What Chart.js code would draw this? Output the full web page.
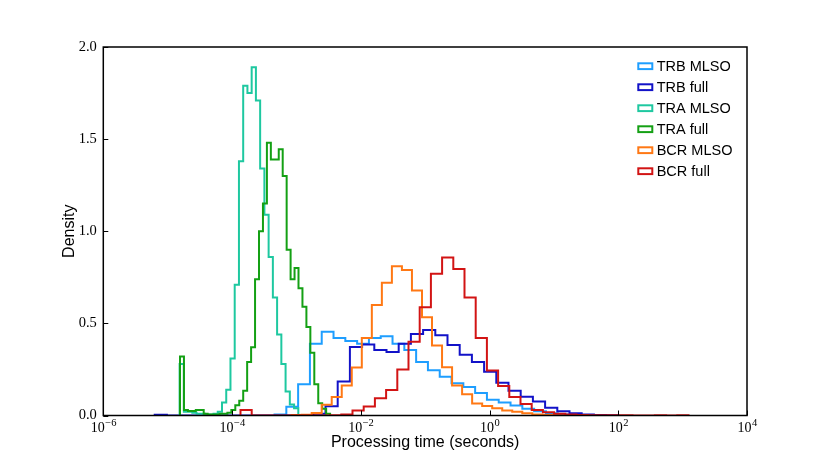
<!DOCTYPE html>
<html>
<head>
<meta charset="utf-8">
<script src="https://cdn.jsdelivr.net/npm/chart.js@4/dist/chart.umd.min.js"></script>
<style>
html, body { margin: 0; padding: 0; background: #fff; }
canvas { display: block; }
</style>
</head>
<body>
<canvas id="c" width="830" height="475" style="width:830px;height:475px"></canvas>
<script>
// ---------------- data ----------------
const seriesLabels = ['TRB MLSO', 'TRB full', 'TRA MLSO', 'TRA full', 'BCR MLSO', 'BCR full'];

// bin ranges: [log10(first edge), log10(last edge)] in seconds
const trbMlsoRange = [-3.340, 1.793];
const trbFullRange = [-5.2015, 2.0006];
const traMlsoRange = [-4.8147, -2.9706];
const traFullRange = [-4.8084, -2.4766];
const bcrMlsoRange = [-3.0747, 1.1322];
const bcrFullRange = [-3.8686, 3.0912];

// density of each bin
const trbMlsoDensity = [0.005, 0.047, 0.17, 0.39, 0.455, 0.42, 0.405, 0.39, 0.42, 0.43, 0.39, 0.356, 0.29, 0.245,
  0.21, 0.175, 0.155, 0.122, 0.085, 0.07, 0.054, 0.036, 0.023, 0.012, 0.005, 0.003, 0.002, 0.001];
const trbFullDensity = [0.004, 0, 0, 0, 0, 0, 0, 0, 0, 0, 0, 0, 0,
  0.009, 0.05, 0.185, 0.372, 0.385, 0.356, 0.345, 0.39, 0.443, 0.464, 0.436, 0.383, 0.33, 0.29, 0.238,
  0.178, 0.135, 0.102, 0.076, 0.042, 0.023, 0.012, 0.005, 0.003, 0.001];
const traMlsoDensity = [0.28, 0.02, 0.02, 0.015, 0.01, 0.01, 0.005, 0.005, 0.01, 0.02, 0.07, 0.14, 0.31, 0.71,
  1.38, 1.79, 1.75, 1.89, 1.71, 1.34, 1.09, 0.86, 0.64, 0.44, 0.28, 0.13, 0.06, 0.04];
const traFullDensity = [0.32, 0.03, 0.025, 0.025, 0.03, 0.03, 0.01, 0.005, 0.005, 0.005, 0.01, 0.01, 0.015,
  0.03, 0.055, 0.08, 0.135, 0.29, 0.37, 0.74, 1.0, 1.15, 1.48, 1.39, 1.39, 1.445, 1.30, 0.90, 0.74, 0.80,
  0.69, 0.59, 0.48, 0.34, 0.17, 0.067, 0.036, 0.01];
const bcrMlsoDensity = [0.003, 0.004, 0.014, 0.058, 0.1, 0.163, 0.26, 0.42, 0.6, 0.72, 0.81, 0.79, 0.678,
  0.533, 0.38, 0.262, 0.163, 0.116, 0.065, 0.052, 0.04, 0.027, 0.02, 0.012, 0.005, 0.003, 0.002];
const bcrFullDensity = [0.03, 0, 0, 0, 0, 0, 0, 0, 0.002, 0.005, 0.027, 0.049, 0.094, 0.139, 0.25, 0.40,
  0.587, 0.77, 0.858, 0.795, 0.641, 0.42, 0.244, 0.16, 0.1, 0.063, 0.03, 0.018, 0.009, 0.005, 0.003,
  0.002, 0.001, 0.001, 0.001, 0, 0, 0.001, 0, 0.001];

// axis ticks
const xTickExponents = [-6, -4, -2, 0, 2, 4];
const yTickValues = [0.0, 0.5, 1.0, 1.5, 2.0];
const xTitle = 'Processing time (seconds)';
const yTitle = 'Density';

// ---------------- styles ----------------
const seriesColors = ['#1e9eff', '#1212c8', '#1ec8a0', '#14a014', '#ff7814', '#d21414'];

// ---------------- build ----------------
const ranges = [trbMlsoRange, trbFullRange, traMlsoRange, traFullRange, bcrMlsoRange, bcrFullRange];
const densities = [trbMlsoDensity, trbFullDensity, traMlsoDensity, traFullDensity, bcrMlsoDensity, bcrFullDensity];

function histOutline(range, vals) {
  const lo = range[0], hi = range[1], n = vals.length, w = (hi - lo) / n;
  const pts = [{ x: Math.pow(10, lo), y: 0 }];
  vals.forEach((v, i) => pts.push({ x: Math.pow(10, lo + i * w), y: v }));
  pts.push({ x: Math.pow(10, hi), y: 0 });
  return pts;
}

function expText(e) { return String(e).replace('-', '\u2212'); }

const datasets = seriesLabels.map((lab, i) => ({
  label: lab,
  data: histOutline(ranges[i], densities[i]),
  borderColor: seriesColors[i],
  backgroundColor: seriesColors[i],
  borderWidth: 2,
  pointRadius: 0,
  pointHoverRadius: 0,
  fill: false,
  stepped: true,
  tension: 0,
  order: seriesLabels.length - i
}));

const serifFont = '"Liberation Serif", "DejaVu Serif", serif';
const sansFont = '"Liberation Sans", Arial, Helvetica, sans-serif';

const frameAndLegend = {
  id: 'frameAndLegend',
  afterDatasetsDraw(chart) {
    const { ctx, chartArea: a, scales } = chart;
    ctx.save();
    ctx.strokeStyle = '#000';
    ctx.lineWidth = 1;
    ctx.beginPath();
    scales.x.ticks.forEach(t => {
      const px = Math.round(scales.x.getPixelForValue(t.value)) + 0.5;
      ctx.moveTo(px, a.bottom); ctx.lineTo(px, a.bottom - 5);
    });
    scales.y.ticks.forEach(t => {
      const py = Math.round(scales.y.getPixelForValue(t.value)) + 0.5;
      ctx.moveTo(a.left, py); ctx.lineTo(a.left + 5, py);
    });
    ctx.stroke();
    ctx.lineWidth = 1.5;
    ctx.strokeRect(a.left, a.top, a.right - a.left, a.bottom - a.top);

    // x tick labels as 10 with raised exponent
    ctx.fillStyle = '#000';
    ctx.textBaseline = 'alphabetic';
    ctx.textAlign = 'left';
    scales.x.ticks.forEach(t => {
      const px = scales.x.getPixelForValue(t.value);
      const base = '10', ex = expText(Math.round(Math.log10(t.value)));
      ctx.font = '14px ' + serifFont;
      const wb = ctx.measureText(base).width;
      ctx.font = '10.5px ' + serifFont;
      const we = ctx.measureText(ex).width;
      const x0 = px - (wb + we) / 2;
      ctx.font = '14px ' + serifFont;
      ctx.fillText(base, x0, a.bottom + 16);
      ctx.font = '10.5px ' + serifFont;
      ctx.fillText(ex, x0 + wb + 0.5, a.bottom + 10);
    });

    // legend inside the upper-right corner
    ctx.font = '14.5px ' + sansFont;
    chart.data.datasets.forEach((ds, i) => {
      const base = a.top + 23.7 + 21 * i;
      const bx = a.right - 108.7;
      ctx.strokeStyle = ds.borderColor;
      ctx.lineWidth = 2;
      ctx.strokeRect(bx, base - 7.4, 14, 5.8);
      ctx.fillStyle = '#000';
      ctx.fillText(ds.label, a.right - 90.3, base);
    });
    ctx.restore();
  }
};

new Chart(document.getElementById('c'), {
  type: 'line',
  data: { datasets },
  plugins: [frameAndLegend],
  options: {
    responsive: false,
    animation: false,
    devicePixelRatio: 1,
    events: [],
    layout: { padding: { left: 0, top: 47, right: 83, bottom: 0 } },
    plugins: { legend: { display: false }, tooltip: { enabled: false } },
    scales: {
      x: {
        type: 'logarithmic',
        min: Math.pow(10, xTickExponents[0]),
        max: Math.pow(10, xTickExponents[xTickExponents.length - 1]),
        grid: { display: false, drawTicks: false },
        border: { display: false },
        afterBuildTicks: s => { s.ticks = xTickExponents.map(e => ({ value: Math.pow(10, e) })); },
        afterFit: s => { s.height = 59.5; s.paddingLeft = 0; s.paddingRight = 0; s.paddingTop = 0; s.paddingBottom = 0; },
        ticks: {
          display: false,
          color: '#000',
          font: { family: serifFont, size: 14 },
          maxRotation: 0,
          autoSkip: false,
          callback: (v) => '10^' + Math.round(Math.log10(v))
        },
        title: {
          display: true, text: xTitle, color: '#000',
          font: { family: sansFont, size: 16 },
          padding: { top: 0, bottom: 23 }
        }
      },
      y: {
        min: yTickValues[0],
        max: yTickValues[yTickValues.length - 1],
        grid: { display: false, drawTicks: false },
        border: { display: false },
        afterBuildTicks: s => { s.ticks = yTickValues.map(v => ({ value: v })); },
        afterFit: s => { s.width = 103.3; s.paddingLeft = 0; s.paddingRight = 0; s.paddingTop = 0; s.paddingBottom = 0; },
        ticks: {
          color: '#000',
          font: { family: serifFont, size: 14.5 },
          padding: 6.5,
          callback: v => Number(v).toFixed(1)
        },
        title: {
          display: true, text: yTitle, color: '#000',
          font: { family: sansFont, size: 16 },
          padding: { top: 60, bottom: 0 }
        }
      }
    }
  }
});
</script>
</body>
</html>
